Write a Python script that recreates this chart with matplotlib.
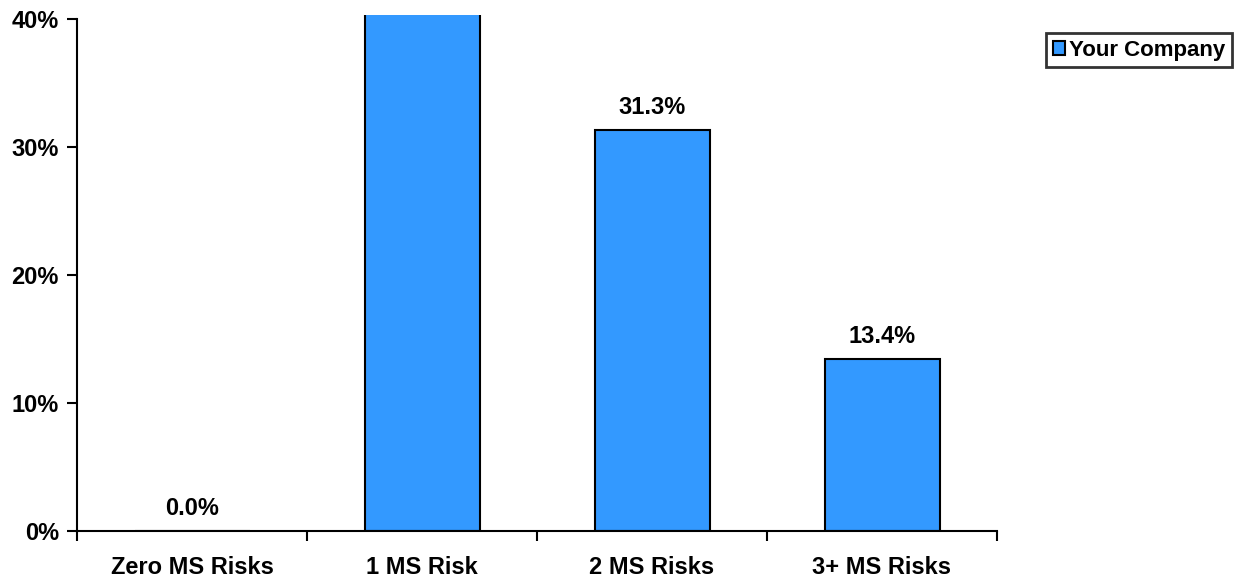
import matplotlib.pyplot as plt
from matplotlib.patches import Patch

plt.rcParams['font.family'] = ['Liberation Sans', 'DejaVu Sans']
plt.rcParams['font.weight'] = 'bold'

categories = ['Zero MS Risks', '1 MS Risk', '2 MS Risks', '3+ MS Risks']
your_company = [0.0, 55.3, 31.3, 13.4]
y_ticks = [0, 10, 20, 30, 40]

FS = 17

fig = plt.figure(figsize=(12.38, 5.79), dpi=100)
ax = fig.add_axes([77 / 1238, 48 / 579, 920 / 1238, 515.8 / 579])

pos = list(range(len(categories)))
bars = ax.bar(pos, your_company, width=0.5, color='#3399FF',
              edgecolor='black', linewidth=1.5, zorder=2)

# value labels, skipped when the bar runs off the top
for x, v in zip(pos, your_company):
    if v <= 40:
        ax.annotate('%.1f%%' % v, (x, v), xytext=(0, 8), textcoords='offset points',
                    ha='center', va='bottom', fontsize=FS, fontweight='bold')

ax.set_xlim(-0.5, len(categories) - 0.5)
ax.set_ylim(0, 40.3)
ax.set_yticks(y_ticks)
ax.set_yticklabels(['%d%%' % t for t in y_ticks], fontsize=FS, fontweight='bold')
ax.spines['left'].set_bounds(0, 40)

# category labels centred, ticks on the boundaries
ax.set_xticks([p - 0.5 for p in pos] + [len(categories) - 0.5])
ax.set_xticklabels([])
ax.set_xticks(pos, minor=True)
ax.set_xticklabels(categories, minor=True, fontsize=FS, fontweight='bold')
ax.tick_params(axis='x', which='minor', length=0, pad=18)
ax.tick_params(axis='x', which='major', direction='out', length=7, width=1.5)
ax.tick_params(axis='y', direction='out', length=7, width=1.5, pad=6)

for s in ['top', 'right']:
    ax.spines[s].set_visible(False)
for s in ['left', 'bottom']:
    ax.spines[s].set_linewidth(1.5)

leg = fig.legend(handles=[Patch(facecolor='#3399FF', edgecolor='black', linewidth=1.5,
                                label='Your Company')],
                 loc='upper left', bbox_to_anchor=(1046 / 1238, 1 - 33 / 579),
                 prop={'weight': 'bold', 'size': 16},
                 frameon=True, fancybox=False, handlelength=0.55, handleheight=0.55,
                 handletextpad=0.2, borderpad=0.3, borderaxespad=0)
leg.get_frame().set_edgecolor('black')
leg.get_frame().set_linewidth(2)

fig.savefig('out.png', dpi=100)
